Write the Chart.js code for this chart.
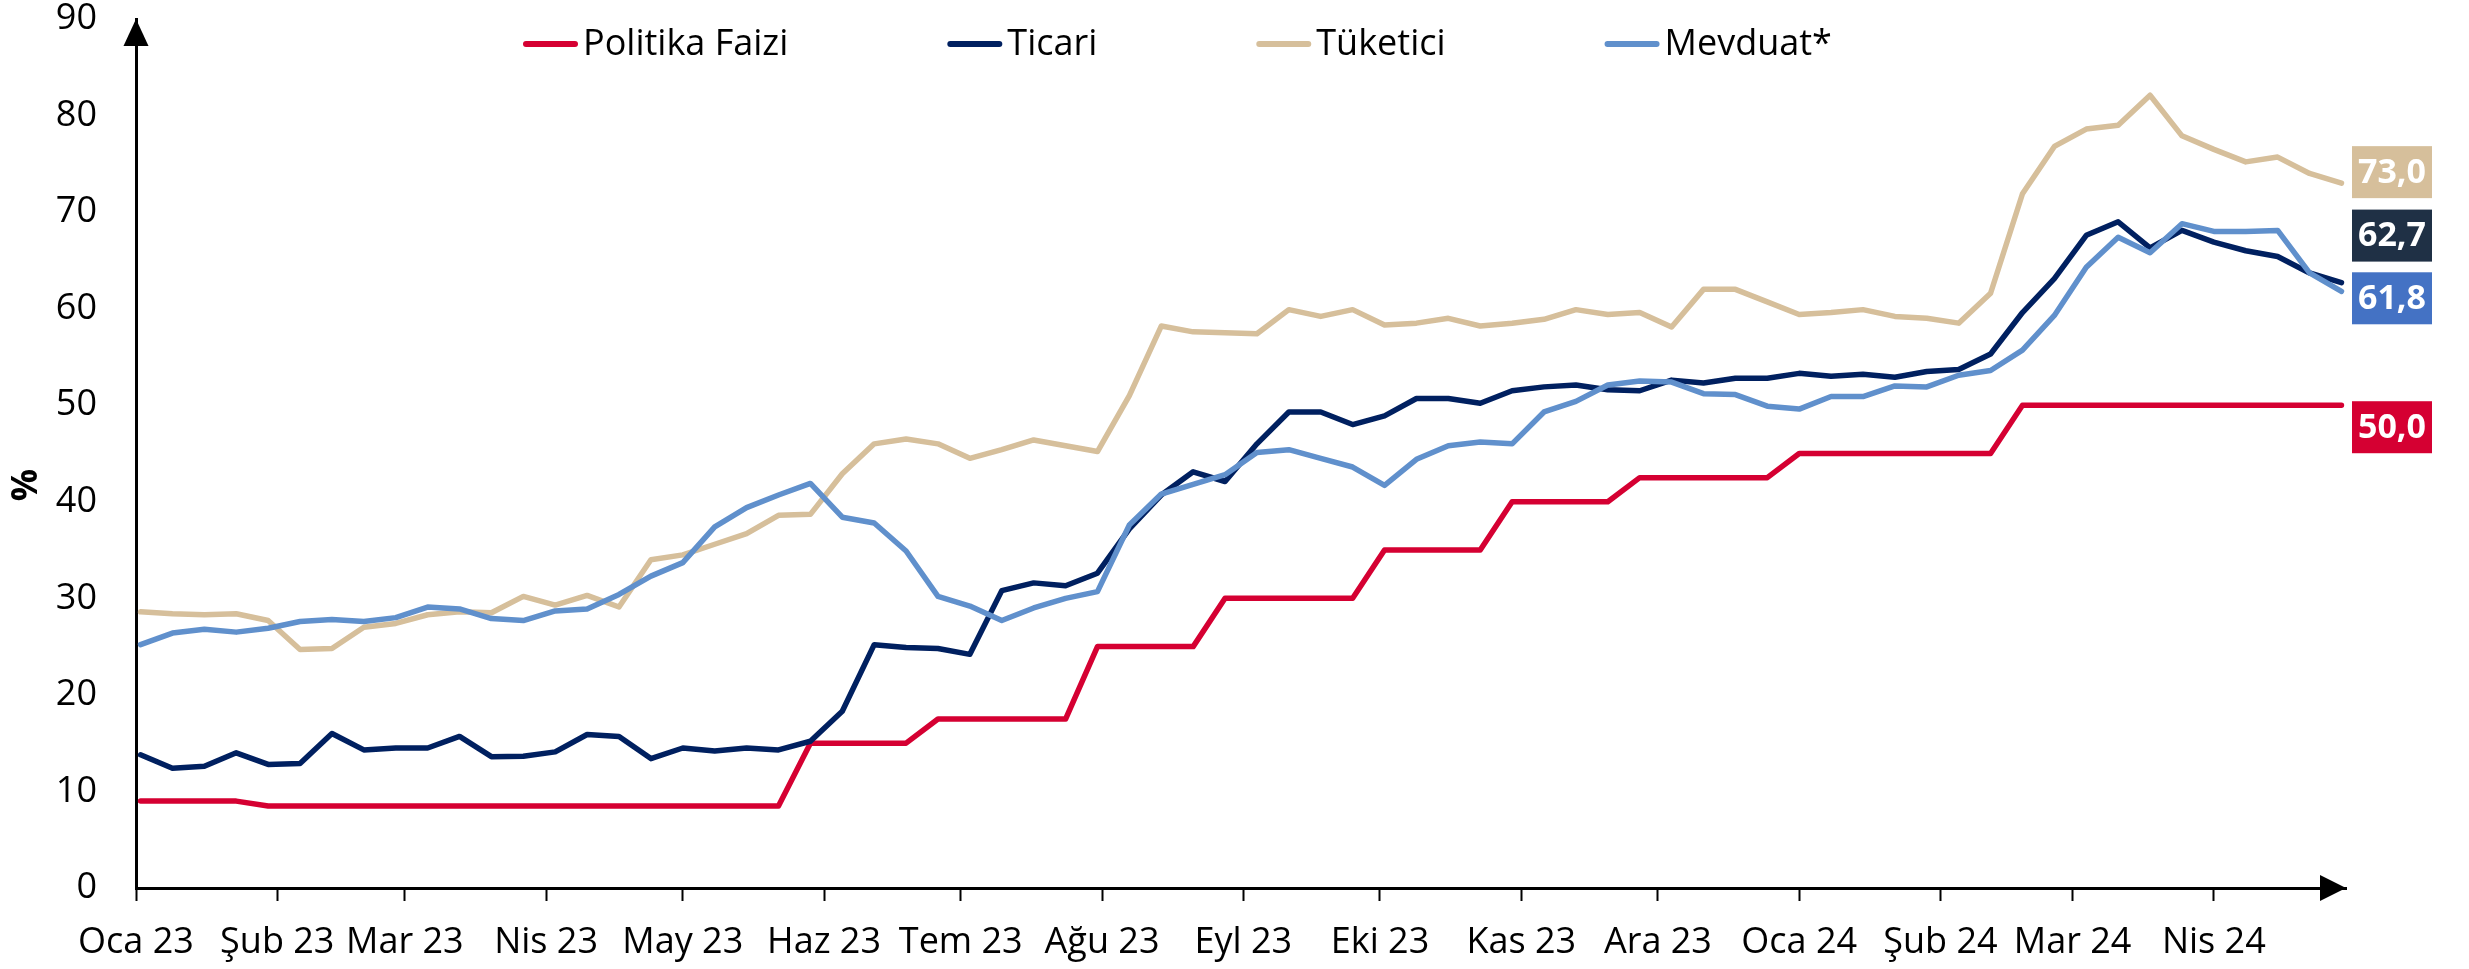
<!DOCTYPE html>
<html>
<head>
<meta charset="utf-8">
<script src="https://cdn.jsdelivr.net/npm/chart.js@4"></script>
<style>
  html, body { margin: 0; padding: 0; background: #fff; }
  #wrap { width: 2469px; height: 969px; }
</style>
</head>
<body>
<div id="wrap"><canvas id="rateChart" width="2469" height="969"></canvas></div>
<script>
// ═══════════════════════════════════════
//  FAİZ ORANLARI — HAFTALIK
// ═══════════════════════════════════════

// ── DATA ──
const AXIS_START = '2023-01-01';
const AXIS_END   = '2024-04-30';
const FIRST_WEEK = '2023-01-02';   // first weekly observation

const MONTH_LABELS = ['Oca 23', 'Şub 23', 'Mar 23', 'Nis 23', 'May 23', 'Haz 23', 'Tem 23', 'Ağu 23',
                      'Eyl 23', 'Eki 23', 'Kas 23', 'Ara 23', 'Oca 24', 'Şub 24', 'Mar 24', 'Nis 24'];
const MONTH_STARTS = ['2023-01-01', '2023-02-01', '2023-03-01', '2023-04-01', '2023-05-01', '2023-06-01',
                      '2023-07-01', '2023-08-01', '2023-09-01', '2023-10-01', '2023-11-01', '2023-12-01',
                      '2024-01-01', '2024-02-01', '2024-03-01', '2024-04-01'];

const SERIES_NAMES = ['Politika Faizi', 'Ticari', 'Tüketici', 'Mevduat*'];
const Y_TITLE = '%';

const POLITIKA = [9, 9, 9, 9, 8.5, 8.5, 8.5, 8.5, 8.5, 8.5, 8.5, 8.5, 8.5, 8.5, 8.5, 8.5, 8.5, 8.5, 8.5, 8.5,
                  8.5, 15, 15, 15, 15, 17.5, 17.5, 17.5, 17.5, 17.5, 25, 25, 25, 25, 30, 30, 30, 30, 30, 35,
                  35, 35, 35, 40, 40, 40, 40, 42.5, 42.5, 42.5, 42.5, 42.5, 45, 45, 45, 45, 45, 45, 45, 50,
                  50, 50, 50, 50, 50, 50, 50, 50, 50, 50];

const TICARI = [13.8, 12.4, 12.6, 14.0, 12.8, 12.9, 16.0, 14.3, 14.5, 14.5, 15.7, 13.6, 13.65, 14.1, 15.9, 15.7,
                13.4, 14.5, 14.2, 14.5, 14.3, 15.2, 18.3, 25.2, 24.9, 24.8, 24.2, 30.8, 31.6, 31.3, 32.6, 37.2,
                40.7, 43.1, 42.1, 46.0, 49.3, 49.3, 48.0, 48.9, 50.7, 50.7, 50.2, 51.5, 51.9, 52.1, 51.6, 51.5,
                52.6, 52.3, 52.8, 52.8, 53.3, 53.0, 53.2, 52.9, 53.5, 53.7, 55.3, 59.6, 63.1, 67.6, 69.0, 66.3,
                68.1, 66.9, 66.0, 65.4, 63.7, 62.7];

const TUKETICI = [28.6, 28.4, 28.3, 28.4, 27.7, 24.7, 24.8, 27.0, 27.4, 28.3, 28.6, 28.5, 30.2, 29.3, 30.3, 29.1,
                  34.0, 34.5, 35.6, 36.7, 38.6, 38.7, 42.9, 46.0, 46.5, 46.0, 44.5, 45.4, 46.4, 45.8, 45.2, 51.0,
                  58.2, 57.6, 57.5, 57.4, 59.9, 59.2, 59.9, 58.3, 58.5, 59.0, 58.2, 58.5, 58.9, 59.9, 59.4, 59.6,
                  58.1, 62.0, 62.0, 60.7, 59.4, 59.6, 59.9, 59.2, 59.0, 58.5, 61.6, 71.9, 76.8, 78.6, 79.0, 82.1,
                  77.9, 76.5, 75.2, 75.7, 74.0, 73.0];

const MEVDUAT = [25.2, 26.4, 26.8, 26.5, 26.9, 27.6, 27.8, 27.6, 28.0, 29.1, 28.9, 27.9, 27.7, 28.7, 28.9, 30.4,
                 32.3, 33.7, 37.4, 39.4, 40.7, 41.9, 38.4, 37.8, 34.9, 30.2, 29.2, 27.7, 29.0, 30.0, 30.7, 37.6,
                 40.8, 41.8, 42.8, 45.1, 45.4, 44.5, 43.6, 41.7, 44.4, 45.8, 46.2, 46.0, 49.3, 50.4, 52.1, 52.5,
                 52.4, 51.2, 51.1, 49.9, 49.6, 50.9, 50.9, 52.0, 51.9, 53.1, 53.6, 55.7, 59.3, 64.3, 67.4, 65.8,
                 68.8, 68.0, 68.0, 68.1, 63.7, 61.8];

// ── STYLE ──
const LINE_COLORS = ['#d50032', '#002060', '#d6bf9b', '#6090cc'];
const BOX_COLORS  = ['#d50032', '#1f3045', '#d6bf9b', '#4472c4'];
const LABEL_SHIFT = [22, -47, -11, 7];   // px offset of end label box from last point

const FONT = "'Open Sans', 'Noto Sans', sans-serif";
Chart.defaults.font.family = FONT;
Chart.defaults.color = '#000';

// ── HELPERS ──
const dayOf = d => (Date.parse(d) - Date.parse(AXIS_START)) / 86400000;
const weekDays = POLITIKA.map((_, i) => dayOf(FIRST_WEEK) + 7 * i);
const tickDays = MONTH_STARTS.map(dayOf);
const toPoints = arr => arr.map((v, i) => ({ x: weekDays[i], y: v }));
const fmt = v => v.toFixed(1).replace('.', ',');

// ── AXIS ARROWS, TITLE, LEGEND, END LABELS ──
const decorPlugin = {
  id: 'decor',
  afterDraw(chart) {
    const { ctx, chartArea: a } = chart;
    ctx.save();

    // arrows on axis ends
    ctx.fillStyle = '#000';
    ctx.beginPath();
    ctx.moveTo(a.left, a.top);
    ctx.lineTo(a.left - 12.5, a.top + 27);
    ctx.lineTo(a.left + 12.5, a.top + 27);
    ctx.closePath();
    ctx.fill();
    ctx.beginPath();
    ctx.moveTo(a.right, a.bottom);
    ctx.lineTo(a.right - 26, a.bottom - 13);
    ctx.lineTo(a.right - 26, a.bottom + 13);
    ctx.closePath();
    ctx.fill();

    // y axis title
    ctx.save();
    ctx.translate(27, 485);
    ctx.rotate(-Math.PI / 2);
    ctx.font = 'bold 36px ' + FONT;
    ctx.textAlign = 'center';
    ctx.textBaseline = 'middle';
    ctx.fillText(Y_TITLE, 0, 0);
    ctx.restore();

    // legend row
    ctx.font = '36px ' + FONT;
    ctx.textBaseline = 'middle';
    ctx.textAlign = 'left';
    let x = 523;
    const y = 44;
    chart.data.datasets.forEach(ds => {
      ctx.strokeStyle = ds.borderColor;
      ctx.lineWidth = 6;
      ctx.lineCap = 'round';
      ctx.beginPath();
      ctx.moveTo(x + 3, y);
      ctx.lineTo(x + 52, y);
      ctx.stroke();
      ctx.fillStyle = '#000';
      ctx.fillText(ds.label, x + 60, y + 1);
      x += 60 + ctx.measureText(ds.label).width + 159;
    });

    // value boxes at line ends
    ctx.font = 'bold 34px ' + FONT;
    ctx.textAlign = 'center';
    chart.data.datasets.forEach((ds, i) => {
      const pts = chart.getDatasetMeta(i).data;
      const last = pts[pts.length - 1];
      const cy = last.y + LABEL_SHIFT[i];
      const bx = a.right + 6;
      ctx.fillStyle = BOX_COLORS[i];
      ctx.fillRect(bx, cy - 26, 80, 52);
      ctx.fillStyle = '#fff';
      ctx.fillText(fmt(ds.data[ds.data.length - 1].y), bx + 40, cy + 1);
    });

    ctx.restore();
  }
};

// ── CHART ──
const seriesValues = [POLITIKA, TICARI, TUKETICI, MEVDUAT];

new Chart(document.getElementById('rateChart'), {
  type: 'line',
  data: {
    datasets: seriesValues.map((vals, i) => ({
      label: SERIES_NAMES[i],
      data: toPoints(vals),
      borderColor: LINE_COLORS[i],
      backgroundColor: LINE_COLORS[i],
      borderWidth: 5.5,
      borderJoinStyle: 'round',
      borderCapStyle: 'round',
      pointRadius: 0,
      tension: 0,
      order: 3 - i,
    }))
  },
  options: {
    responsive: false,
    animation: false,
    events: [],
    layout: { padding: { top: 19, right: 123, bottom: 0, left: 0 } },
    plugins: {
      legend: { display: false },
      tooltip: { enabled: false },
    },
    scales: {
      x: {
        type: 'linear',
        min: 0,
        max: dayOf(AXIS_END),
        grid: { display: true, drawOnChartArea: false, drawTicks: true, tickLength: 13, tickWidth: 2, tickColor: '#000' },
        border: { display: true, color: '#000', width: 3 },
        ticks: {
          autoSkip: false,
          maxRotation: 0,
          padding: 20,
          font: { size: 36 },
          color: '#000',
          callback: v => MONTH_LABELS[tickDays.indexOf(v)],
        },
        afterBuildTicks: s => { s.ticks = tickDays.map(v => ({ value: v })); },
        afterFit: s => { s.height = 81; s.paddingLeft = 0; s.paddingRight = 0; s.paddingTop = 0; s.paddingBottom = 0; },
      },
      y: {
        min: 0,
        max: 90,
        grid: { display: false, drawTicks: false },
        border: { display: true, color: '#000', width: 3 },
        ticks: { stepSize: 10, padding: 39, font: { size: 36, lineHeight: 1 }, color: '#000' },
        afterFit: s => { s.width = 136; s.paddingTop = 0; s.paddingBottom = 0; s.paddingLeft = 0; s.paddingRight = 0; },
      }
    }
  },
  plugins: [decorPlugin]
});
</script>
</body>
</html>
